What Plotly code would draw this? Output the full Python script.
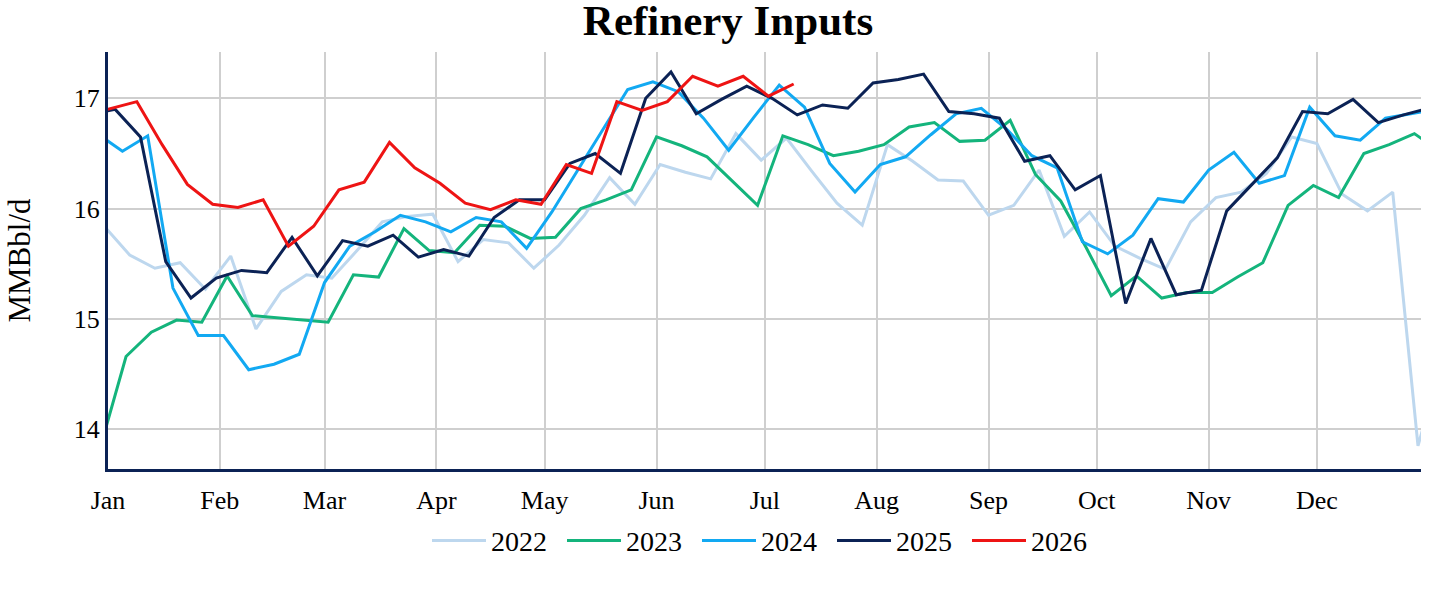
import pandas as pd
import plotly.graph_objects as go

# weekly refinery inputs (MMBbl/d); each list starts with the last week of the prior year
v2022 = [15.84,
         15.58, 15.46, 15.51, 15.27, 15.57, 14.91, 15.25, 15.40, 15.37, 15.62,
         15.88, 15.93, 15.95, 15.52, 15.72, 15.69, 15.46, 15.67, 15.94, 16.28,
         16.04, 16.40, 16.33, 16.27, 16.68, 16.44, 16.64, 16.34, 16.05, 15.85,
         16.58, 16.43, 16.26, 16.25, 15.94, 16.03, 16.35, 15.75, 15.97, 15.66,
         15.55, 15.45, 15.88, 16.10, 16.15, 16.32, 16.65, 16.59, 16.13, 15.98,
         16.15, 13.85,
         14.66]
v2023 = [13.85,
         14.66, 14.88, 14.99, 14.97, 15.39, 15.03, 15.01, 14.99, 14.97, 15.40,
         15.38, 15.82, 15.62, 15.60, 15.85, 15.84, 15.73, 15.74, 16.00, 16.08,
         16.17, 16.65, 16.57, 16.47, 16.25, 16.03, 16.66, 16.58, 16.48, 16.52,
         16.58, 16.74, 16.78, 16.61, 16.62, 16.80, 16.31, 16.07, 15.65, 15.21,
         15.39, 15.19, 15.24, 15.24, 15.38, 15.51, 16.03, 16.21, 16.10, 16.50,
         16.58, 16.68,
         16.52]
v2024 = [16.68,
         16.52, 16.66, 15.28, 14.85, 14.85, 14.54, 14.59, 14.68, 15.33, 15.66,
         15.79, 15.94, 15.88, 15.79, 15.92, 15.88, 15.64, 15.97, 16.34, 16.71,
         17.08, 17.15, 17.06, 16.82, 16.53, 16.83, 17.12, 16.92, 16.41, 16.15,
         16.40, 16.47, 16.67, 16.86, 16.91, 16.72, 16.48, 16.37, 15.70, 15.59,
         15.76, 16.09, 16.06, 16.35, 16.51, 16.23, 16.30, 16.92, 16.66, 16.62,
         16.82, 16.86,
         16.90]
v2025 = [16.86,
         16.90, 16.65, 15.52, 15.19, 15.37, 15.44, 15.42, 15.74, 15.39, 15.71,
         15.66, 15.76, 15.56, 15.63, 15.57, 15.92, 16.08, 16.08, 16.41, 16.50,
         16.32, 17.00, 17.24, 16.86, 16.99, 17.11, 17.00, 16.85, 16.94, 16.91,
         17.14, 17.17, 17.22, 16.88, 16.86, 16.82, 16.43, 16.48, 16.17, 16.30,
         15.14, 15.73, 15.22, 15.26, 15.98, 16.22, 16.46, 16.88, 16.86, 16.99,
         16.78, 16.85,
         16.91]
v2026 = [16.85,
         16.91, 16.97, 16.58, 16.22, 16.04, 16.01, 16.08, 15.66, 15.84, 16.17,
         16.24, 16.60, 16.37, 16.23, 16.05, 15.99, 16.08, 16.04, 16.40, 16.32,
         16.97, 16.89, 16.97, 17.20, 17.11, 17.20, 17.02, 17.13]

years = ["2022", "2023", "2024", "2025", "2026"]
first_week = ["2021-12-31", "2022-12-30", "2023-12-29", "2024-12-27", "2025-12-26"]
values = [v2022, v2023, v2024, v2025, v2026]
colors = ["#bdd7ee", "#14b47c", "#12a9f2", "#0b2255", "#ee1414"]

month_ticks = pd.date_range("2024-01-01", periods=12, freq="MS")
month_labels = ["Jan", "Feb", "Mar", "Apr", "May", "Jun",
                "Jul", "Aug", "Sep", "Oct", "Nov", "Dec"]

FONT = "Liberation Serif, Times New Roman, serif"
base = pd.Timestamp("2024-01-01")  # leap display year

fig = go.Figure()
for yr, start, vals, col in zip(years, first_week, values, colors):
    weeks = pd.date_range(start, periods=len(vals), freq="7D")
    offs = (weeks - pd.Timestamp(f"{yr}-01-01")).days
    x = base + pd.to_timedelta(offs, unit="D")
    fig.add_trace(go.Scatter(x=x, y=vals, mode="lines", name=yr,
                             line=dict(color=col, width=3)))

fig.update_layout(
    width=1456, height=593,
    margin=dict(l=108, r=35, t=52, b=124),
    paper_bgcolor="white", plot_bgcolor="white",
    font=dict(family=FONT, size=26, color="black"),
    title=dict(text="<b>Refinery Inputs</b>", x=0.5, xanchor="center",
               y=0.967, yanchor="middle", font=dict(size=43, family=FONT)),
    legend=dict(orientation="h", x=0.5, xanchor="center", y=-0.172,
                yanchor="middle", font=dict(size=28),
                itemwidth=54, entrywidth=66, entrywidthmode="pixels"),
    showlegend=True,
)
fig.update_xaxes(
    type="date", range=["2024-01-01", "2024-12-29 20:00"],
    tickvals=month_ticks, ticktext=month_labels,
    showgrid=True, gridcolor="#cfcfcf", gridwidth=1.5,
    showline=True, linecolor="#0b2255", linewidth=3,
    ticks="", zeroline=False, ticklabelstandoff=6,
)
fig.update_yaxes(
    range=[13.64, 17.42], dtick=1,
    showgrid=True, gridcolor="#cfcfcf", gridwidth=1.5,
    showline=True, linecolor="#0b2255", linewidth=3,
    title=dict(text="MMBbl/d", font=dict(size=31), standoff=34),
    ticks="", zeroline=False,
)

fig.write_html("out.html", config={"displayModeBar": False},
               post_script="document.body.style.margin='0';")
